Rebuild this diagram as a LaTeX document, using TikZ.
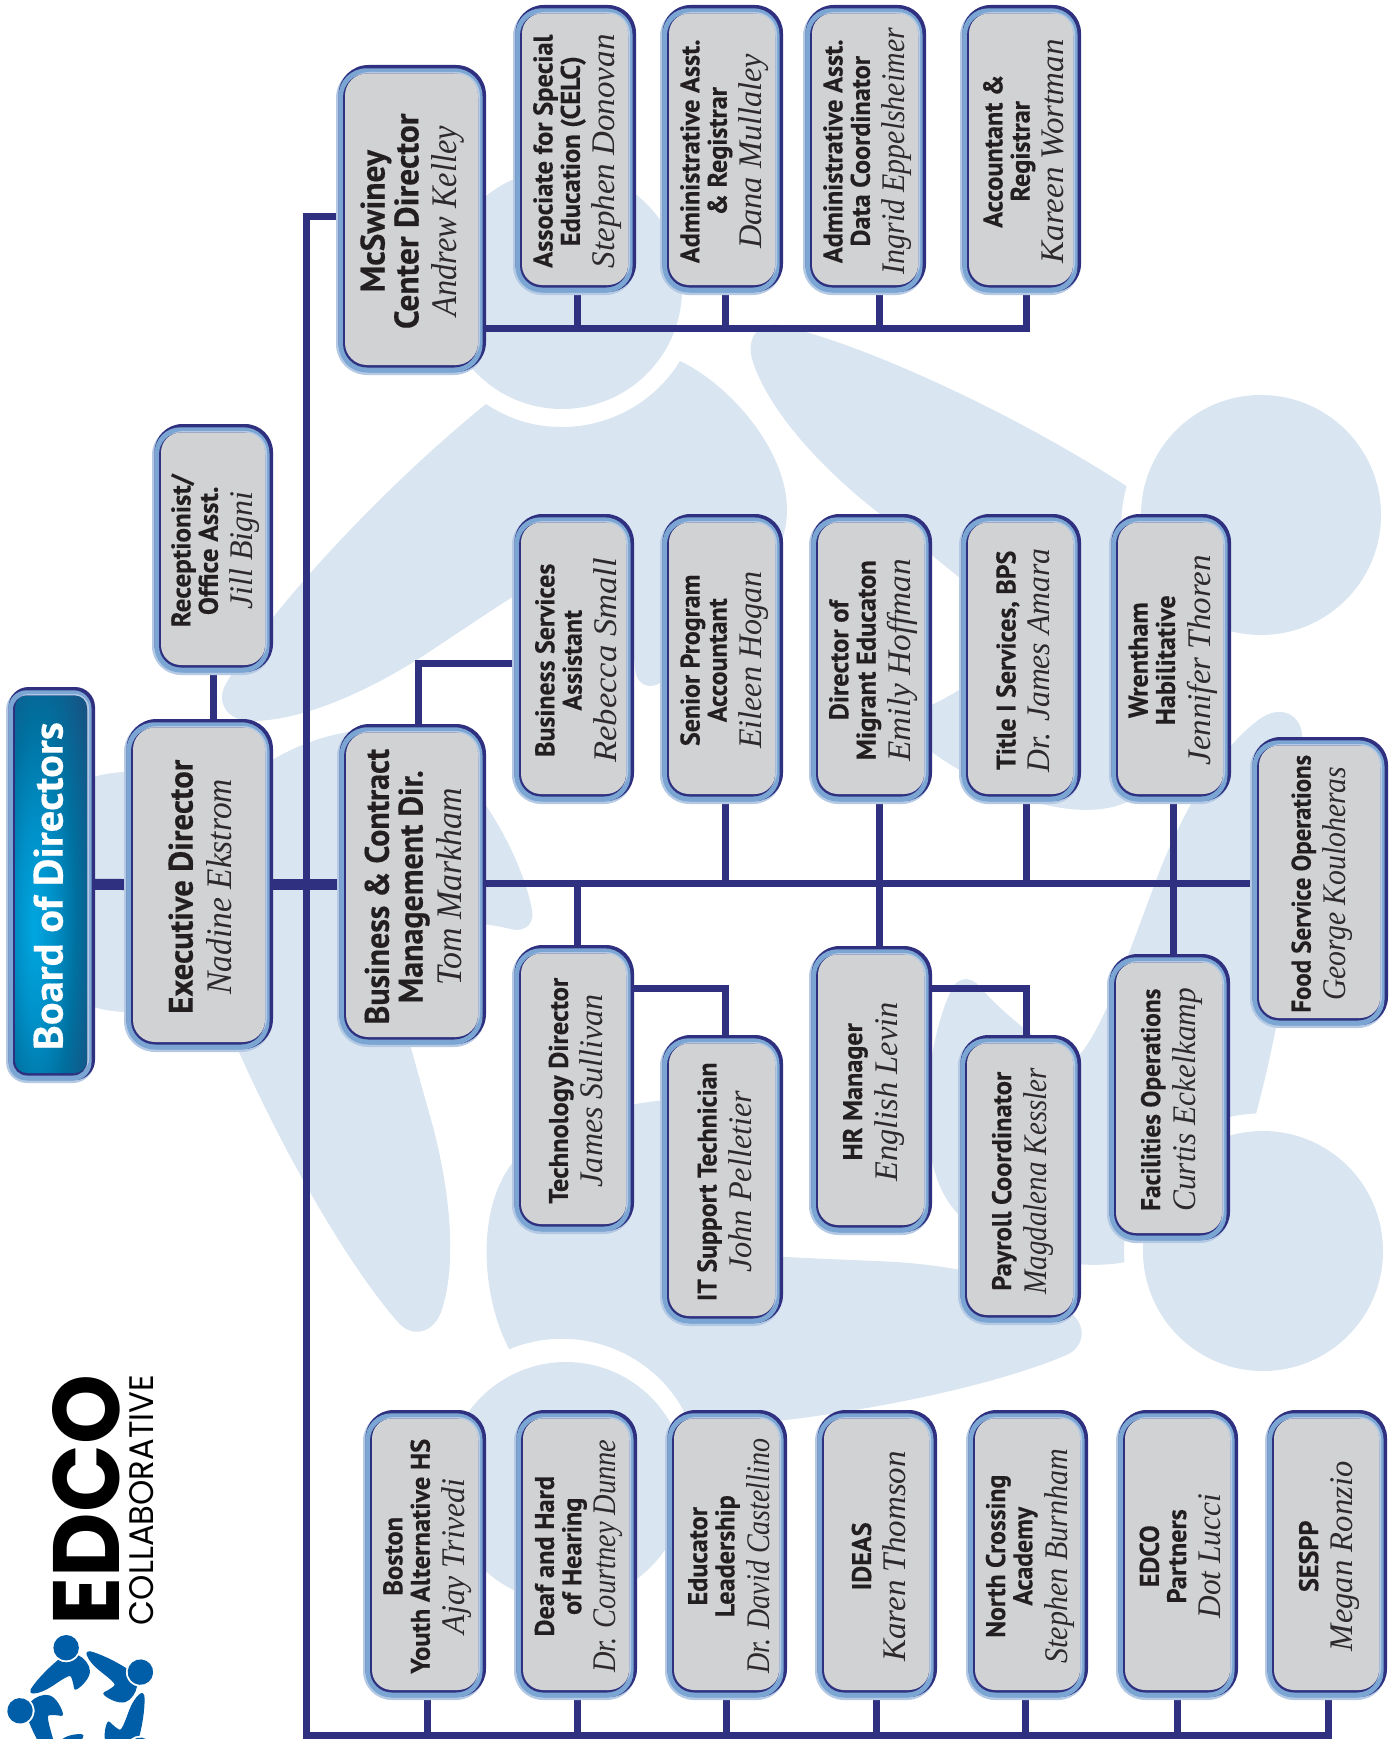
\documentclass[tikz,border=0pt]{standalone}
\usepackage{fontspec}
\usepackage{graphicx}
\newfontfamily\ttlfam{PT Sans}[BoldFeatures={FakeBold=0.35}]
\newfontfamily\psnfam{Liberation Serif}
\newfontfamily\logofam{Poppins}
\definecolor{ghost}{HTML}{D9E5F1}
\definecolor{logoblue}{HTML}{005DA8}
\definecolor{navy}{HTML}{2F3180}
\definecolor{band}{HTML}{7BA6D3}
\definecolor{halo}{HTML}{B4C9E4}
\definecolor{boxgray}{HTML}{D0D2D3}
\definecolor{inkblack}{HTML}{231F20}
\definecolor{glowa}{HTML}{00A7E1}
\definecolor{glowb}{HTML}{0090C8}
\definecolor{glowc}{HTML}{00709F}
\definecolor{glowd}{HTML}{1D4B7C}
\pgfdeclareradialshading{boardglow}{\pgfpoint{-12bp}{-6bp}}{%
 color(0bp)=(glowa); color(13bp)=(glowb); color(26bp)=(glowc); color(45bp)=(glowd); color(100bp)=(glowd)}
\pgfdeclarelayer{bg}\pgfdeclarelayer{conn}\pgfsetlayers{bg,conn,main}
\tikzset{
 conn/.style={draw=navy,line width=7pt,line join=miter},
 fatconn/.style={draw=navy,line width=11pt},
 grayface/.style={fill=boxgray},
 boardface/.style={shading=boardglow,shading angle=0},
 boxtext/.style={rotate=90,inner sep=0pt,align=center,text=inkblack},
}
\newcommand{\Ttl}[2]{\scalebox{#1}[1]{\fontsize{27}{27}\selectfont\ttlfam\bfseries\begin{tabular}{@{}c@{}}#2\end{tabular}}}
\newcommand{\TtlL}[2]{\scalebox{#1}[1]{\fontsize{34}{32}\selectfont\ttlfam\bfseries\begin{tabular}{@{}c@{}}#2\end{tabular}}}
\newcommand{\Psn}[3][33]{\scalebox{#2}[1]{\fontsize{#1}{#1}\selectfont\psnfam\itshape\color{inkblack!95} #3}}
% [face]{name}{x0}{y0}{x1}{y1}{text}
\newcommand{\orgbox}[7][grayface]{%
 \pgfmathsetmacro\bw{#5-#3-17}\pgfmathsetmacro\bh{#6-#4-18.5}%
 \pgfmathsetmacro\bx{(#3+#5)/2+0.5}\pgfmathsetmacro\by{(#4+#6)/2-0.75}%
 \fill[halo,rounded corners=\Rg+9] (#3,#4+2) rectangle (#5-1,#6);
 \fill[navy,rounded corners=\Rg+8] (#3+2.5,#4) rectangle (#5,#6-3);
 \fill[band,rounded corners=\Rg+6] (#3+2.5,#4+3.3) rectangle (#5-3.5,#6-2.5);
 \fill[halo,rounded corners=\Rg+2] (#3+9,#4+7) rectangle (#5-6,#6-10);
 \fill[navy,rounded corners=\Rg+2] (#3+7,#4+8.5) rectangle (#5-8,#6-7.5);
 \node[#1,rounded corners=\Rg,inner sep=0pt,outer sep=0pt,minimum width=\bw pt,minimum height=\bh pt] (#2) at (\bx,\by) {};
 \node[boxtext] (#2-t) at ([xshift=\tshift,yshift=-2pt]#2.center) {#7};
}
\def\tshift{2.5pt}
\def\Rg{20pt}
\def\bodypath{(486,404) .. controls (510,420) and (535,427) .. (562,427)
 .. controls (610,427) and (655,402) .. (680,361)
 .. controls (730,385) and (787,450) .. (787,510)
 .. controls (787,575) and (710,655) .. (662,682)
 .. controls (650,690) and (636,686) .. (635,668)
 .. controls (633,640) and (622,600) .. (612,572)
 .. controls (608,558) and (598,552) .. (585,558)
 .. controls (550,570) and (500,605) .. (423,656)
 .. controls (370,690) and (305,720) .. (254,721)
 .. controls (225,722) and (215,700) .. (227,682)
 .. controls (270,610) and (380,490) .. (486,404) -- cycle}
\begin{document}
\begin{tikzpicture}[x=1pt,y=-1pt]
\useasboundingbox (0,0) rectangle (1398,1739);
\begin{pgfonlayer}{bg}
\begin{scope}
\clip (0,0) rectangle (1398,1739);
\foreach \a/\ox/\oy in {0/0/0,72/0/-3,144/4/-5,216/2/-5,288/-3/4}{\fill[ghost,shift={(\ox,\oy)},rotate around={\a:(754,886)}] \bodypath;}
\fill[ghost] (562,289) circle[radius=120];
\fill[ghost] (1261,515) circle[radius=120];
\fill[ghost] (1263,1251) circle[radius=120];
\fill[ghost] (566,1482) circle[radius=120];
\fill[ghost] (128,892) circle[radius=120];
\begin{scope}[shift={(86.5,1711)},scale=0.106,shift={(-754,-886)}]
\foreach \a in {0,72,144,216,288}{\fill[logoblue,rotate around={\a:(754,886)}] \bodypath;
 \fill[logoblue,rotate around={\a:(754,886)}] (562,289) circle[radius=120];}
\end{scope}
\end{scope}
\end{pgfonlayer}
% logo wordmark
\node[rotate=90,inner sep=0pt] (edco) at (86.5,1500) {\resizebox{250pt}{67pt}{\logofam\bfseries EDCO}};
\node[rotate=90,inner sep=0pt] (collab) at (142,1500) {\resizebox{250pt}{24pt}{\logofam COLLABORATIVE}};
% board
\def\Rg{12pt}\def\tshift{0pt}
\orgbox[boardface]{board}{6}{687}{95}{1083}{\raisebox{6pt}{\resizebox{328pt}{\height}{\fontsize{41}{41}\selectfont\ttlfam\bfseries\color{white}Board of Directors}}}
\def\Rg{22pt}\def\tshift{1pt}
\orgbox{exec}{124}{719}{273}{1052}{\TtlL{.96}{Executive Director}\\[3pt]\Psn[36]{.93}{Nadine Ekstrom}}
\orgbox{biz}{337}{724}{486}{1047}{\TtlL{.94}{Business \& Contract\\Management Dir.}\\[3pt]\Psn[36]{.94}{Tom Markham}}
\orgbox{mcs}{336}{65}{486}{375}{\TtlL{.98}{McSwiney\\Center Director}\\[3pt]\Psn[36]{.90}{Andrew Kelley}}
\def\Rg{20pt}\def\tshift{2.5pt}
\orgbox{recept}{152}{424}{273}{675}{\Ttl{1}{Receptionist/\\Office Asst.}\\[3pt]\Psn{.97}{Jill Bigni}}
\orgbox{assoc}{513}{5}{636}{295}{\Ttl{.98}{Associate for Special\\Education (CELC)}\\[3pt]\Psn{1}{Stephen Donovan}}
\orgbox{admin}{660}{5}{783}{295}{\Ttl{.97}{Administrative Asst.\\\& Registrar}\\[3pt]\Psn{.98}{Dana Mullaley}}
\orgbox{data}{803}{5}{926}{295}{\Ttl{.97}{Administrative Asst.\\Data Coordinator}\\[3pt]\Psn{.905}{Ingrid Eppelsheimer}}
\orgbox{acct}{960}{5}{1081}{295}{\Ttl{.97}{Accountant \&\\Registrar}\\[3pt]\Psn{1}{Kareen Wortman}}
\orgbox{bsa}{512}{514}{634}{804}{\Ttl{.96}{Business Services\\Assistant}\\[3pt]\Psn{1.05}{Rebecca Small}}
\orgbox{spa}{660}{514}{783}{804}{\Ttl{.96}{Senior Program\\Accountant}\\[3pt]\Psn{.97}{Eileen Hogan}}
\orgbox{dme}{809}{514}{932}{804}{\Ttl{.98}{Director of\\Migrant Educaton}\\[3pt]\Psn{1.01}{Emily Hoffman}}
\orgbox{tone}{959}{514}{1081}{804}{\Ttl{.96}{Title I Services, BPS}\\[3pt]\Psn{.96}{Dr. James Amara}}
\orgbox{wren}{1109}{514}{1231}{804}{\Ttl{.97}{Wrentham\\Habilitative}\\[3pt]\Psn{1}{Jennifer Thoren}}
\orgbox{food}{1250}{737}{1388}{1028}{\Ttl{.92}{Food Service Operations}\\[3pt]\Psn{.90}{George Kouloheras}}
\orgbox{tech}{512}{945}{634}{1234}{\Ttl{.98}{Technology Director}\\[3pt]\Psn{.97}{James Sullivan}}
\orgbox{itsup}{660}{1035}{783}{1326}{\Ttl{.955}{IT Support Technician}\\[3pt]\Psn{.98}{John Pelletier}}
\orgbox{hrm}{809}{946}{932}{1235}{\Ttl{.97}{HR Manager}\\[3pt]\Psn{.98}{English Levin}}
\orgbox{pay}{958}{1035}{1081}{1325}{\Ttl{.98}{Payroll Coordinator}\\[3pt]\Psn{.88}{Magdalena Kessler}}
\orgbox{fac}{1107}{954}{1230}{1243}{\Ttl{.94}{Facilities Operations}\\[3pt]\Psn{.95}{Curtis Eckelkamp}}
\orgbox{boston}{363}{1410}{486}{1700}{\Ttl{.98}{Boston\\Youth Alternative HS}\\[3pt]\Psn{.96}{Ajay Trivedi}}
\orgbox{deaf}{514}{1410}{637}{1700}{\Ttl{.975}{Deaf and Hard\\of Hearing}\\[3pt]\Psn{.86}{Dr. Courtney Dunne}}
\orgbox{edu}{665}{1410}{787}{1700}{\Ttl{.97}{Educator\\Leadership}\\[3pt]\Psn{.85}{Dr. David Castellino}}
\orgbox{ideas}{815}{1410}{937}{1700}{\Ttl{.97}{IDEAS}\\[3pt]\Psn{1}{Karen Thomson}}
\orgbox{north}{966}{1410}{1088}{1700}{\Ttl{.95}{North Crossing\\Academy}\\[3pt]\Psn{.91}{Stephen Burnham}}
\orgbox{partners}{1116}{1410}{1238}{1700}{\Ttl{.97}{EDCO\\Partners}\\[3pt]\Psn{.95}{Dot Lucci}}
\orgbox{sespp}{1265}{1410}{1387}{1700}{\Ttl{.97}{SESPP}\\[3pt]\Psn{.99}{Megan Ronzio}}
% connectors
\coordinate (ttop) at (306,216);
\coordinate (tbot) at (306,1735.5);
\coordinate (mbus) at (577,328);
\coordinate (bbus) at (577,883);
\coordinate (bj) at (418.5,663);
\coordinate (tj) at (725,988);
\coordinate (hj) at (1026,988);
\begin{pgfonlayer}{conn}
\draw[fatconn] (board) -- (exec);
\draw[fatconn] (exec) -- (biz);
\draw[conn] (recept) -- (exec.center -| recept);
\draw[conn] (mcs.west |- ttop) -- (ttop) -- (tbot) -- ([xshift=1.5pt]sespp.center |- tbot) -- ([xshift=1.5pt]sespp.center);
\foreach \nm/\dx in {boston/2,deaf/1,edu/0,ideas/0,north/-2.5,partners/0}{
 \draw[conn] ([xshift=\dx pt]\nm.center) -- ([xshift=\dx pt]\nm.center |- tbot);}
\draw[conn] (mcs.east |- mbus) -- ([xshift=5pt]acct.center |- mbus) -- ([xshift=5pt]acct.center);
\foreach \nm/\dx in {assoc/2,admin/3,data/14}{
 \draw[conn] ([xshift=\dx pt]\nm.center) -- ([xshift=\dx pt]\nm.center |- mbus);}
\draw[conn] (biz.east |- bbus) -- (food.west |- bbus);
\draw[conn] (bj |- biz.center) -- (bj) -- (bsa.center |- bj);
\foreach \nm/\dx in {spa/3,tone/5.5}{
 \draw[conn] ([xshift=\dx pt]\nm.center) -- ([xshift=\dx pt]\nm.center |- bbus);}
\draw[conn] ([xshift=8pt]dme.center) -- ([xshift=8pt]hrm.center);
\draw[conn] ([xshift=2.5pt]wren.center) -- ([xshift=2.5pt]wren.center |- fac.center);
\draw[conn] ([xshift=3.5pt]tech.center) -- ([xshift=3.5pt]tech.center |- bbus);
\draw[conn] (tech.center |- tj) -- (tj) -- (tj |- itsup.center);
\draw[conn] (hrm.center |- hj) -- (hj) -- (hj |- pay.center);
\end{pgfonlayer}
\end{tikzpicture}
\end{document}
